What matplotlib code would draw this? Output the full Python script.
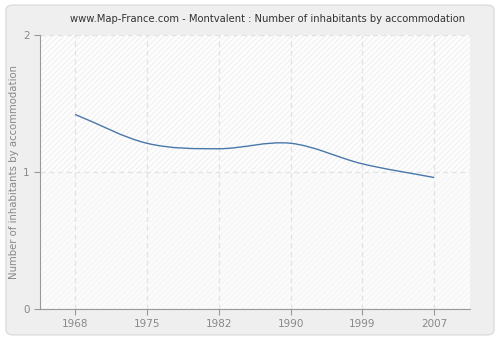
import numpy as np
import matplotlib
matplotlib.use("Agg")
import matplotlib.pyplot as plt
from matplotlib.patches import FancyBboxPatch, Rectangle, PathPatch
from matplotlib.path import Path

years = ["1968", "1975", "1982", "1990", "1999", "2007"]
values = [1.42, 1.21, 1.17, 1.21, 1.06, 0.96]

plt.rcParams["hatch.linewidth"] = 0.5

fig = plt.figure(figsize=(5, 3.4), dpi=100, facecolor="white")
frame = FancyBboxPatch((0.012, 0.015), 0.976, 0.97, boxstyle="round,pad=0,rounding_size=0.015",
                       transform=fig.transFigure, facecolor="#efefef", edgecolor="#dcdcdc",
                       linewidth=1.0, zorder=-10)
fig.patches.append(frame)

ax = fig.add_axes([0.08, 0.091, 0.86, 0.806])
ax.set_zorder(5)
ax.set_facecolor("#fdfdfd")
ax.set_xlim(-0.49, 5.5)
ax.set_ylim(0, 2)

# hatched bands behind the data
ax.add_patch(Rectangle((-0.49, 1), 6, 1, facecolor="#fdfdfd", edgecolor="#ebebeb",
                       hatch="//////", linewidth=0, zorder=0))
ax.add_patch(Rectangle((-0.49, 0), 6, 1, facecolor="#fbfbfb", edgecolor="#f3f3f3",
                       hatch="//////", linewidth=0, zorder=0))

x = np.arange(len(years))
y = np.array(values)

# smooth curve through the points: cubic bezier segments with Catmull-Rom tangents
t = np.gradient(y, x)
verts = [(x[0], y[0])]
codes = [Path.MOVETO]
for i in range(len(x) - 1):
    verts += [(x[i] + 1 / 3, y[i] + t[i] / 3),
              (x[i + 1] - 1 / 3, y[i + 1] - t[i + 1] / 3),
              (x[i + 1], y[i + 1])]
    codes += [Path.CURVE4] * 3
ax.add_patch(PathPatch(Path(verts, codes), facecolor="none", edgecolor="#4a77aa",
                       linewidth=1.0, zorder=3))

ax.set_xticks(x)
ax.set_xticklabels(years)
ax.set_yticks([0, 1, 2])
ax.grid(True, color="#e2e2e2", linestyle=(0, (4, 3)), linewidth=0.9)
for gl in ax.get_xgridlines() + ax.get_ygridlines():
    gl.set_zorder(1)

for side in ["top", "right"]:
    ax.spines[side].set_visible(False)
for side in ["left", "bottom"]:
    ax.spines[side].set_color("#999999")
ax.tick_params(colors="#999999", labelcolor="#888888", labelsize=7.5, length=4, width=0.8)

ax.set_ylabel("Number of inhabitants by accommodation", color="#888888", fontsize=7.3, labelpad=3)
fig.text(0.535, 0.945, "www.Map-France.com - Montvalent : Number of inhabitants by accommodation",
         ha="center", va="center", fontsize=7.2, color="#333333")

fig.savefig("out.png", dpi=100, facecolor=fig.get_facecolor())
